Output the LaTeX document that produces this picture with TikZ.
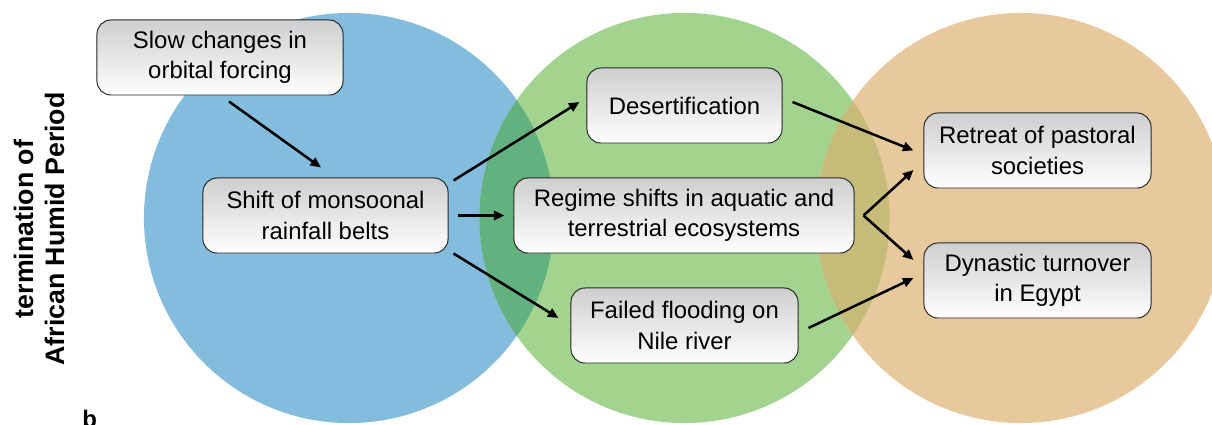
\documentclass[tikz,border=0pt]{standalone}
\usepackage{fontspec}
\setmainfont{Liberation Sans}
\usetikzlibrary{arrows.meta}
\definecolor{bluecirc}{RGB}{132,188,222}
\definecolor{greencirc}{RGB}{162,212,144}
\definecolor{orangecirc}{RGB}{232,201,158}
\definecolor{bluegreen}{RGB}{99,177,126}
\definecolor{greenorange}{RGB}{199,187,121}
\tikzset{
  box/.style={
    rectangle, rounded corners=0.35cm, draw=black!85, line width=0.7pt,
    top color=black!19, bottom color=white, align=center,
    minimum width=6.15cm, minimum height=1.875cm, inner sep=2pt,
    font=\fontsize{17}{21.5}\selectfont
  },
  arrow/.style={-{Triangle[length=7.5pt, width=6.5pt]}, line width=1.8pt},
  sidelabel/.style={font=\fontsize{19}{22}\selectfont\bfseries, align=center, rotate=90},
}

\begin{document}
\begin{tikzpicture}[x=0.025cm, y=-0.025cm]
\useasboundingbox (0,0) rectangle (1212,425);
\clip (0,0) rectangle (1212,425);

%% ---- CIRCLES ----
\fill[bluecirc]   (349,218)    circle [radius=5.125cm];
\fill[greencirc]  (684.5,218)  circle [radius=5.125cm];
\fill[orangecirc] (1021,218)   circle [radius=5.125cm];
\begin{scope}
  \clip (349,218) circle [radius=5.125cm];
  \fill[bluegreen] (684.5,218) circle [radius=5.125cm];
\end{scope}
\begin{scope}
  \clip (684.5,218) circle [radius=5.125cm];
  \fill[greenorange] (1021,218) circle [radius=5.125cm];
\end{scope}

%% ---- SIDE LABELS ----
\node[sidelabel] (period) at (39,229) {termination of\\African Humid Period};
\node[font=\fontsize{17}{19}\selectfont\bfseries, anchor=base west, inner sep=0pt] (panel) at (82,428) {b};

%% ---- BOXES ----
\node[box] (slow)    at (220,57.5)    {Slow changes in\\orbital forcing};
\node[box, minimum width=6.125cm] (shift)   at (325.5,215.5) {Shift of monsoonal\\rainfall belts};
\node[box, minimum width=4.875cm] (desert)  at (684.5,105.5) {Desertification};
\node[box, minimum width=8.5cm]   (regime)  at (684,215.5)   {Regime shifts in aquatic and\\terrestrial ecosystems};
\node[box, minimum width=5.675cm] (failed)  at (684.5,325.5) {Failed flooding on\\Nile river};
\node[box, minimum width=5.675cm] (retreat) at (1037.5,150.5) {Retreat of pastoral\\societies};
\node[box, minimum width=5.675cm] (dynasty) at (1037.5,280.5) {Dynastic turnover\\in Egypt};

%% ---- ARROWS ----
\draw[arrow] ([xshift=0.225cm, yshift=-0.15cm]slow.south)
  -- ([xshift=-0.1125cm, yshift=0.25cm]shift.north);
\draw[arrow] ([xshift=0.125cm, yshift=-0.075cm]shift.north east)
  -- ([xshift=-0.175cm, yshift=0.0875cm]desert.west);
\draw[arrow] ([xshift=0.225cm]shift.east) -- ([xshift=-0.225cm]regime.west);
\draw[arrow] ([xshift=0.125cm]shift.south east)
  -- ([xshift=-0.3cm, yshift=0.1875cm]failed.west);

\draw[arrow] ([xshift=0.25cm, yshift=0.0875cm]desert.east) -- ([xshift=-0.25cm]retreat.west);
\coordinate (fork) at ([xshift=0.225cm]regime.east);
\draw[arrow] (fork) -- ([xshift=-0.25cm, yshift=-0.4875cm]retreat.west);
\draw[arrow] (fork) -- ([xshift=-0.25cm, yshift=0.5125cm]dynasty.west);
\draw[arrow] ([xshift=0.25cm, yshift=-0.0625cm]failed.east)
  -- ([xshift=-0.25cm, yshift=0.0625cm]dynasty.west);

\end{tikzpicture}
\end{document}
